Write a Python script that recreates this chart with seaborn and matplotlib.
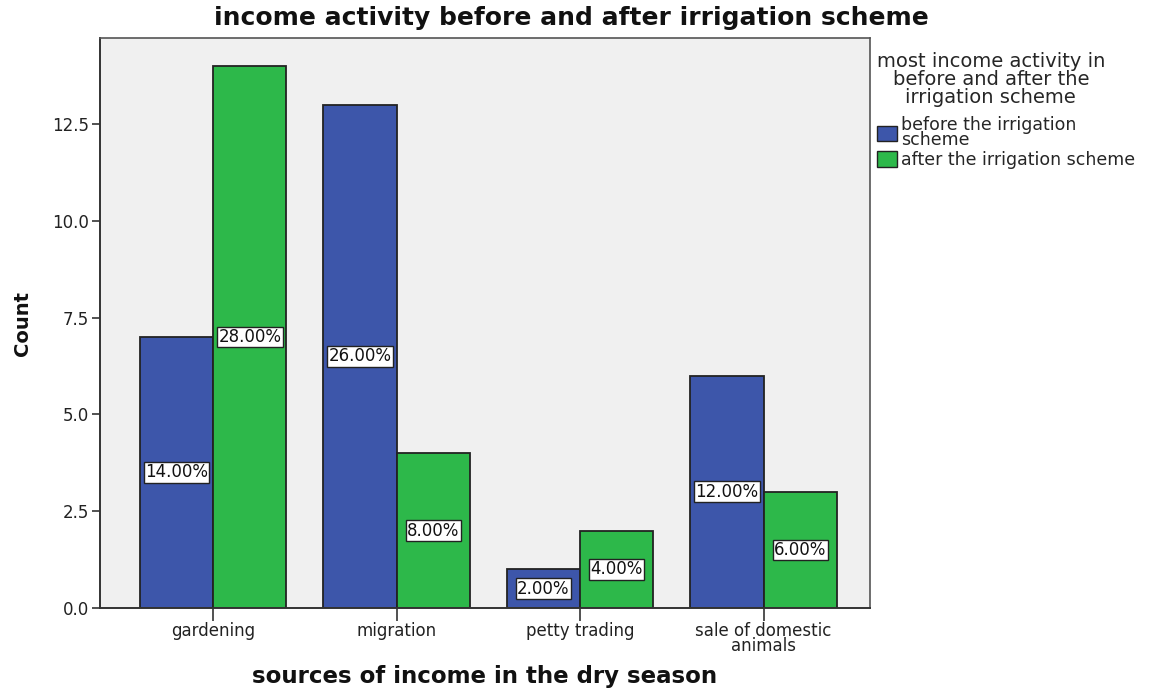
import matplotlib
matplotlib.use("Agg")
import matplotlib.pyplot as plt
import seaborn as sns
import pandas as pd
from matplotlib.patches import Patch

# Survey counts by dry-season income source
sources = ["gardening", "migration", "petty trading", "sale of domestic\nanimals"]
before_counts = [7, 13, 1, 6]
after_counts = [14, 4, 2, 3]
n_respondents = 50

period_labels = ["before the irrigation\nscheme", "after the irrigation scheme"]
colors = ["#3D56AA", "#2DB84A"]

df = pd.DataFrame({
    "source": sources * 2,
    "period": [period_labels[0]] * len(sources) + [period_labels[1]] * len(sources),
    "count": before_counts + after_counts,
})

sns.set_theme(style="white")
plt.rcParams["font.family"] = ["DejaVu Sans"]

fig = plt.figure(figsize=(11.55, 6.89), dpi=100)
ax = fig.add_axes([0.0866, 0.1176, 0.6666, 0.8272])
ax.set_facecolor("#F0F0F0")

sns.barplot(data=df, x="source", y="count", hue="period", palette=colors,
            saturation=1, width=0.8, edgecolor="#222222", linewidth=1.3,
            legend=False, ax=ax)

# Percentage labels at mid-height of each bar
for container in ax.containers:
    for bar in container:
        h = bar.get_height()
        pct = h / n_respondents * 100
        ax.text(bar.get_x() + bar.get_width() / 2, h / 2, f"{pct:.2f}%",
                ha="center", va="center", fontsize=12, color="#111111",
                bbox=dict(boxstyle="square,pad=0.08", facecolor="white",
                          edgecolor="#222222", linewidth=1.0))

ax.set_xlim(-0.616, 3.58)
ax.set_ylim(0, 14.72)
ax.set_yticks([0, 2.5, 5, 7.5, 10, 12.5])
ax.set_yticklabels(["0.0", "2.5", "5.0", "7.5", "10.0", "12.5"])
ax.tick_params(axis="y", direction="out", length=6, width=1.2, colors="#333333",
               labelsize=12, labelcolor="#222222", left=True, pad=2)
ax.tick_params(axis="x", direction="out", length=9, width=1.2, colors="#333333",
               labelsize=12, labelcolor="#222222", bottom=True, pad=1)
for label in ax.get_xticklabels():
    label.set_linespacing(0.8)

for side in ["left", "bottom"]:
    ax.spines[side].set_color("#333333")
    ax.spines[side].set_linewidth(1.4)
for side in ["top", "right"]:
    ax.spines[side].set_color("#555555")
    ax.spines[side].set_linewidth(1.2)

fig.suptitle("income activity before and after irrigation scheme",
             x=0.495, y=0.974, va="center", fontsize=18, fontweight="bold",
             color="#111111")

ax.set_xlabel("sources of income in the dry season", fontsize=16.5,
              fontweight="bold", color="#111111")
ax.xaxis.set_label_coords(0.5, -0.121)
ax.xaxis.label.set_va("center")

ax.set_ylabel("Count", fontsize=14, fontweight="bold", color="#111111")
ax.yaxis.set_label_coords(-0.101, 0.5)
ax.yaxis.label.set_va("center")

handles = [Patch(facecolor=c, edgecolor="#222222", linewidth=1.0) for c in colors]
leg = fig.legend(handles, period_labels,
                 title="most income activity in\nbefore and after the\nirrigation scheme",
                 loc="upper left", bbox_to_anchor=(0.756, 0.93),
                 frameon=False, fontsize=12.5, title_fontsize=14,
                 handlelength=1.2, handleheight=1.0, handletextpad=0.2,
                 labelspacing=0.1, borderaxespad=0, borderpad=0.2)
leg.get_title().set_multialignment("center")
leg.get_title().set_linespacing(0.95)
for t in leg.get_texts():
    t.set_linespacing(0.85)
leg._legend_box.align = "left"
leg._legend_box.sep = 6

fig.savefig("out.png", dpi=100)
